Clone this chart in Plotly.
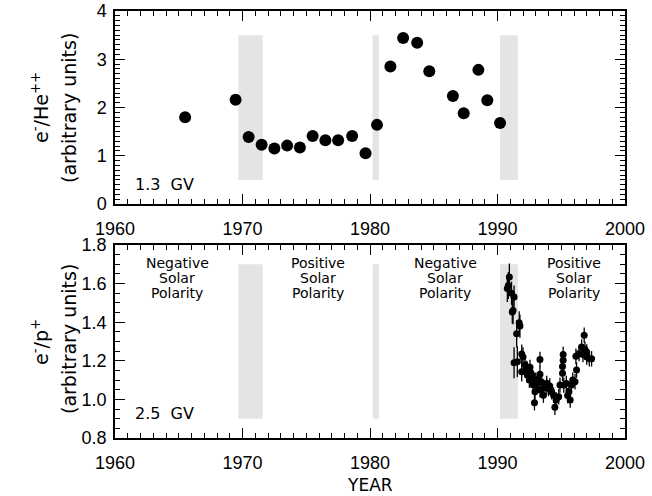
import plotly.graph_objects as go

# ---- Data: top panel (e-/He++, 1.3 GV) ----
years_he = [1965.5, 1969.46, 1970.48, 1971.5, 1972.5, 1973.5, 1974.5, 1975.5, 1976.5,
            1977.5, 1978.6, 1979.65, 1980.55, 1981.6, 1982.6, 1983.7, 1984.65, 1986.5,
            1987.35, 1988.5, 1989.2, 1990.2]
ratio_he = [1.80, 2.16, 1.39, 1.23, 1.15, 1.21, 1.17, 1.41, 1.32, 1.32, 1.41, 1.05,
            1.64, 2.85, 3.44, 3.34, 2.75, 2.24, 1.88, 2.78, 2.15, 1.68]

# ---- Data: bottom panel (e-/p+, 2.5 GV) ----
years_p = [1990.77, 1990.85, 1990.93, 1991.10, 1991.16, 1991.22, 1991.30, 1991.30, 1991.50,
           1991.56, 1991.70, 1991.76, 1991.90, 1991.90, 1992.00, 1992.16, 1992.20, 1992.30,
           1992.34, 1992.50, 1992.55, 1992.60, 1992.70, 1992.80, 1992.90, 1992.94, 1993.00,
           1993.07, 1993.20, 1993.33, 1993.33, 1993.33, 1993.46, 1993.60, 1993.60, 1993.86,
           1993.86, 1994.00, 1994.10, 1994.25, 1994.40, 1994.50, 1994.60, 1994.80, 1994.90,
           1995.10, 1995.10, 1995.15, 1995.15, 1995.20, 1995.40, 1995.50, 1995.60, 1995.70,
           1995.80, 1995.90, 1996.08, 1996.15, 1996.20, 1996.40, 1996.60, 1996.70, 1996.80,
           1996.86, 1997.00, 1997.00, 1997.20, 1997.38]
ratio_p = [1.575, 1.590, 1.634, 1.550, 1.453, 1.460, 1.530, 1.190, 1.340,
           1.195, 1.397, 1.380, 1.235, 1.143, 1.220, 1.180, 1.150, 1.160,
           1.126, 1.100, 1.166, 1.140, 1.126, 1.074, 0.983, 1.040, 1.100,
           1.083, 1.100, 1.207, 1.130, 1.050, 1.090, 1.057, 1.022, 1.065,
           1.083, 1.057, 1.070, 1.040, 1.022, 0.959, 0.997, 1.014, 1.074,
           1.135, 1.170, 1.203, 1.233, 1.074, 1.083, 1.020, 1.040, 0.997,
           1.074, 1.100, 1.091, 1.224, 1.152, 1.238, 1.272, 1.233, 1.333,
           1.259, 1.246, 1.220, 1.210, 1.210]
err_p = [0.07, 0.07, 0.07, 0.06, 0.06, 0.07, 0.06, 0.08, 0.07,
         0.08, 0.06, 0.06, 0.05, 0.05, 0.05, 0.05, 0.04, 0.04,
         0.04, 0.04, 0.04, 0.04, 0.04, 0.04, 0.04, 0.04, 0.04,
         0.04, 0.04, 0.04, 0.04, 0.04, 0.04, 0.04, 0.04, 0.04,
         0.04, 0.04, 0.04, 0.04, 0.04, 0.04, 0.04, 0.04, 0.04,
         0.04, 0.04, 0.04, 0.04, 0.04, 0.04, 0.04, 0.04, 0.04,
         0.04, 0.04, 0.04, 0.04, 0.04, 0.04, 0.04, 0.04, 0.04,
         0.04, 0.04, 0.04, 0.04, 0.04]

# ---- Shaded solar-polarity reversal periods ----
shade_start = [1969.67, 1980.2, 1990.2]
shade_end = [1971.58, 1980.7, 1991.6]
shade_top_range = [0.5, 3.5]
shade_bot_range = [0.9, 1.7]

# ---- Polarity labels ----
pol_x = [1964.9, 1975.9, 1985.9, 1996.0]
pol_lines = [["Negative", "Solar", "Polarity"], ["Positive", "Solar", "Polarity"],
             ["Negative", "Solar", "Polarity"], ["Positive", "Solar", "Polarity"]]
pol_line_y = [1.705, 1.627, 1.549]

x_ticks = [1960, 1970, 1980, 1990, 2000]

fig = go.Figure()

shapes = []
for s, e in zip(shade_start, shade_end):
    shapes.append(dict(type="rect", xref="x", yref="y", x0=s, x1=e,
                       y0=shade_top_range[0], y1=shade_top_range[1],
                       fillcolor="#e4e4e4", line=dict(width=0), layer="below"))
    shapes.append(dict(type="rect", xref="x2", yref="y2", x0=s, x1=e,
                       y0=shade_bot_range[0], y1=shade_bot_range[1],
                       fillcolor="#e4e4e4", line=dict(width=0), layer="below"))

fig.add_trace(go.Scatter(x=years_he, y=ratio_he, mode="markers", xaxis="x", yaxis="y",
                         marker=dict(color="black", size=12), showlegend=False))
fig.add_trace(go.Scatter(x=years_p, y=ratio_p, mode="markers", xaxis="x2", yaxis="y2",
                         marker=dict(color="black", size=7),
                         error_y=dict(type="data", array=err_p, color="black",
                                      thickness=1.3, width=0),
                         showlegend=False))

tickfont = dict(family="Liberation Sans, Arial, sans-serif", size=18, color="black")
axis_common = dict(showline=True, linecolor="black", linewidth=1.5, mirror="allticks",
                   ticks="inside", tickcolor="black", tickwidth=1.3, ticklen=10,
                   showgrid=False, zeroline=False, tickfont=tickfont, automargin=False)

xcommon = dict(axis_common, range=[1960, 2000], tickvals=x_ticks, ticklabelstandoff=8,
               minor=dict(dtick=1, tick0=1960, ticks="inside", ticklen=5,
                          tickcolor="black", tickwidth=1, showgrid=False))

annotations = []
txtfont = dict(family="DejaVu Sans, sans-serif", size=14, color="black")
for px, lines in zip(pol_x, pol_lines):
    for ln, py in zip(lines, pol_line_y):
        annotations.append(dict(x=px, y=py, xref="x2", yref="y2", text=ln, showarrow=False,
                                font=txtfont, xanchor="center", yanchor="middle"))

gvfont = dict(family="DejaVu Sans, sans-serif", size=16, color="black")
annotations.append(dict(x=(133 - 115) / 510, y=(438 - 184) / 427, xref="paper", yref="paper",
                        text="1.3  GV", showarrow=False, font=gvfont,
                        xanchor="left", yanchor="middle"))
annotations.append(dict(x=(133 - 115) / 510, y=(438 - 413) / 427, xref="paper", yref="paper",
                        text="2.5  GV", showarrow=False, font=gvfont,
                        xanchor="left", yanchor="middle"))

titlefont = dict(family="DejaVu Sans, sans-serif", size=19, color="black")
for txt, px, py in [("e<sup>-</sup>/He<sup>++</sup>", 40, 108),
                    ("(arbitrary units)", 69, 108),
                    ("e<sup>-</sup>/p<sup>+</sup>", 40, 342),
                    ("(arbitrary units)", 69, 339)]:
    annotations.append(dict(x=(px - 115) / 510, y=(438 - py) / 427, xref="paper", yref="paper",
                            text=txt, showarrow=False, font=titlefont, textangle=-90,
                            xanchor="center", yanchor="middle"))
annotations.append(dict(x=0.5, y=(438 - 485) / 427, xref="paper", yref="paper", text="YEAR",
                        showarrow=False, font=dict(family="DejaVu Sans, sans-serif", size=17,
                                                   color="black"),
                        xanchor="center", yanchor="middle"))

fig.update_layout(
    width=652, height=496,
    margin=dict(l=115, r=27, t=11, b=58, autoexpand=False),
    paper_bgcolor="white", plot_bgcolor="white",
    xaxis=dict(xcommon, anchor="y", domain=[0, 1]),
    yaxis=dict(axis_common, range=[0, 4], tickvals=[0, 1, 2, 3, 4], anchor="x",
               domain=[0.548, 1.0], ticklabelstandoff=3,
               minor=dict(dtick=0.1, tick0=0, ticks="inside", ticklen=5,
                          tickcolor="black", tickwidth=1, showgrid=False)),
    xaxis2=dict(xcommon, anchor="y2", domain=[0, 1]),
    yaxis2=dict(axis_common, range=[0.8, 1.8], tickvals=[0.8, 1.0, 1.2, 1.4, 1.6, 1.8],
                tickformat=".1f", anchor="x2", domain=[0, 0.452], ticklabelstandoff=3,
                minor=dict(dtick=0.05, tick0=0.8, ticks="inside", ticklen=5,
                           tickcolor="black", tickwidth=1, showgrid=False)),
    shapes=shapes,
    annotations=annotations,
)

fig.write_html("out.html", config={"displayModeBar": False},
               post_script="document.body.style.margin='0';document.body.style.overflow='hidden';")
